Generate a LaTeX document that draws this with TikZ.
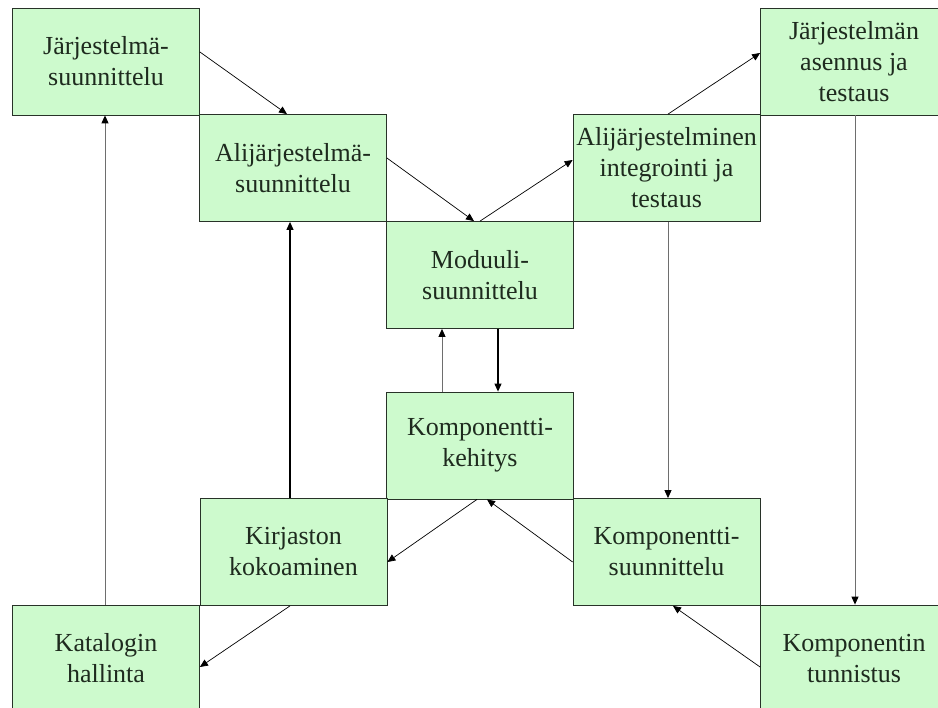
\documentclass[tikz,border=0pt]{standalone}
\usepackage{fontspec}
\setmainfont{Liberation Serif}
\usetikzlibrary{arrows.meta,calc}
\definecolor{boxfill}{RGB}{205,250,205}
\definecolor{boxline}{RGB}{40,50,40}
\definecolor{txt}{RGB}{30,42,30}
\definecolor{greyline}{RGB}{110,110,110}
\tikzset{
  stage/.style={draw=boxline, line width=0.8pt, fill=boxfill, minimum width=187pt,
    minimum height=107pt, inner sep=0pt, align=center, text=txt,
    font=\fontsize{26}{31}\selectfont},
  flow/.style={-{Triangle[length=8pt,width=7pt]}, line width=0.7pt, black},
  greyflow/.style={-{Triangle[length=8pt,width=7pt,color=black]}, line width=0.9pt, greyline},
  boldflow/.style={-{Triangle[length=8pt,width=7pt]}, line width=1.1pt, black}
}
\begin{document}
\begin{tikzpicture}[x=1pt,y=-1pt]
\useasboundingbox (0,0) rectangle (938,708);
\clip (0,0) rectangle (938,708);
\fill[white] (0,0) rectangle (938,708);

% process stages
\node[stage] (b1) at (106,61.5) {Järjestelmä-\\suunnittelu};
\node[stage] (b2) at (293,168) {Alijärjestelmä-\\suunnittelu};
\node[stage] (b3) at (480,275) {Moduuli-\\suunnittelu};
\node[stage] (b4) at (666.5,168) {Alijärjestelminen\\integrointi ja\\testaus};
\node[stage] (b5) at (854,61.5) {Järjestelmän\\asennus ja\\testaus};
\node[stage] (b6) at (480,445.5) {Komponentti-\\kehitys};
\node[stage] (b7) at (293.5,552) {Kirjaston\\kokoaminen};
\node[stage] (b8) at (666.5,552) {Komponentti-\\suunnittelu};
\node[stage] (b9) at (106,658.5) {Katalogin\\hallinta};
\node[stage] (b10) at (854,658.5) {Komponentin\\tunnistus};

% diagonal flows
\draw[flow] ([yshift=9.5pt]b1.east) -- ([xshift=-6pt]b2.north);
\draw[flow] ([yshift=10pt]b2.east) -- ([xshift=-6pt]b3.north);
\draw[flow] (b3.north) -- ([yshift=8pt]b4.west);
\draw[flow] ([xshift=1.5pt]b4.north) -- ([yshift=8.5pt]b5.west);
\draw[flow] ([yshift=-8.5pt]b10.west) -- ([xshift=6.5pt]b8.south);
\draw[flow] ([yshift=-10pt]b8.west) -- ([xshift=7pt]b6.south);
\draw[flow] ([xshift=-3pt]b6.south) -- ([yshift=-10pt]b7.east);
\draw[flow] ([xshift=-3.5pt]b7.south) -- ([yshift=-8.5pt]b9.east);

% vertical flows
\draw[greyflow] ([xshift=1pt]b5.south) -- ([xshift=1pt]b10.north);
\draw[greyflow] ([xshift=1.5pt]b4.south) -- ([xshift=1.5pt]b8.north);
\draw[greyflow] ([xshift=-1pt]b9.north) -- ([xshift=-1pt]b1.south);
\draw[boldflow] ([xshift=-3.5pt]b7.north) -- ([xshift=-3pt]b2.south);
\draw[boldflow] ([xshift=18pt]b3.south) -- ([xshift=18pt]b6.north);
\draw[greyflow] ([xshift=-38pt]b6.north) -- ([xshift=-38pt]b3.south);
\end{tikzpicture}
\end{document}
